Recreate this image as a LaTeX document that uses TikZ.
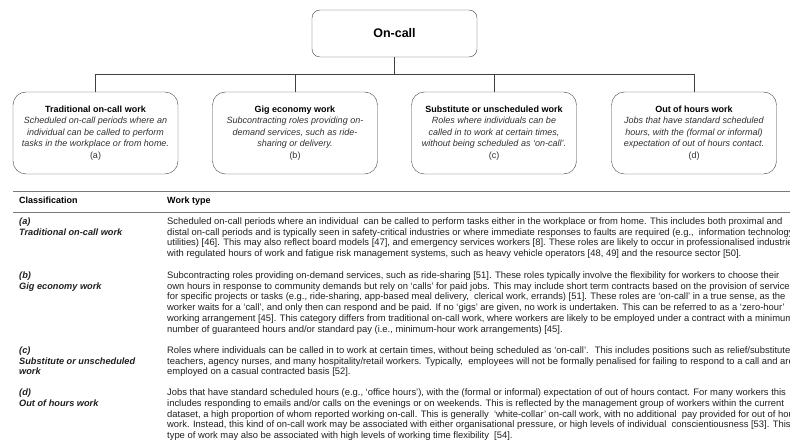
\documentclass[tikz,border=0pt]{standalone}
\usepackage{fontspec}
\setmainfont{Liberation Sans}
\usetikzlibrary{positioning}
\definecolor{linegray}{HTML}{404040}
\definecolor{txtgray}{HTML}{303030}
\definecolor{rulegray}{HTML}{7a7a7a}
\begin{document}
\begin{tikzpicture}[
  x=1pt,y=-1pt,
  root/.style={draw=linegray,rounded corners=8pt,minimum width=165pt,minimum height=47pt,font=\fontsize{12.5}{14}\selectfont\bfseries},
  kind/.style={draw=linegray,rounded corners=13pt,minimum width=165pt,minimum height=82pt,align=center,inner sep=0pt,font=\fontsize{9}{11.5}\selectfont,text=txtgray},
  link/.style={draw=linegray,line width=0.8pt},
  hrule/.style={draw=rulegray,line width=0.9pt},
  headtxt/.style={anchor=base west,inner sep=0pt,font=\fontsize{9}{10.8}\selectfont\bfseries},
  cell/.style={anchor=base west,inner sep=0pt,font=\fontsize{9.4}{10.8}\selectfont,text=black!88},
  clscell/.style={anchor=base west,inner sep=0pt,font=\fontsize{9.2}{10.8}\selectfont\bfseries\itshape,text=black!88}
]
\path[use as bounding box] (0,0) rectangle (790,441);
\clip (0,0) rectangle (790,441);

% tree
\node[root] (oncall) at (394.5,33.5) {On-call};
\node[kind] (trad) at (95.5,133) {\textcolor{black}{\textbf{Traditional on-call work}}\\
  \textit{Scheduled on-call periods where an}\\
  \textit{individual can be called to perform}\\
  \textit{tasks in the workplace or from home.}\\ (a)};
\node[kind] (gig) at (295,133) {\textcolor{black}{\textbf{Gig economy work}}\\
  \textit{Subcontracting roles providing on-}\\
  \textit{demand services, such as ride-}\\
  \textit{sharing or delivery.}\\ (b)};
\node[kind] (subst) at (494,133) {\textcolor{black}{\textbf{Substitute or unscheduled work}}\\
  \textit{Roles where individuals can be}\\
  \textit{called in to work at certain times,}\\
  \textit{without being scheduled as ‘on-call’.}\\ (c)};
\node[kind] (ooh) at (694,133) {\textcolor{black}{\textbf{Out of hours work}}\\
  \textit{Jobs that have standard scheduled}\\
  \textit{hours, with the (formal or informal)}\\
  \textit{expectation of out of hours contact.}\\ (d)};
\foreach \k in {trad,gig,subst,ooh}
  \draw[link] (oncall.south) -- ++(0,17) -| (\k.north);

% table
\draw[hrule] (13,191.7) -- (790,191.7);
\draw[hrule] (13,212) -- (790,212);
\node[headtxt] (hcls) at (19,204) {Classification};
\node[headtxt] (htype) at (167,204) {Work type};

\node[clscell] (ca1) at (19,224.3) {(a)};
\node[clscell] (ca2) at (19,235.1) {Traditional on-call work};
\foreach \ln [count=\i from 0] in {
  {Scheduled on-call periods where an individual \ can be called to perform tasks either in the workplace or from home. This includes both proximal and},
  {distal on-call periods and is typically seen in safety-critical industries or where immediate responses to faults are required (e.g., \ information technology},
  {utilities) [46]. This may also reflect board models [47], and emergency services workers [8]. These roles are likely to occur in professionalised industries},
  {with regulated hours of work and fatigue risk management systems, such as heavy vehicle operators [48, 49] and the resource sector [50].}}
  \node[cell] (ta\i) at (167,224.3+10.8*\i) {\ln};

\node[clscell] (cb1) at (19,278.3) {(b)};
\node[clscell] (cb2) at (19,289.1) {Gig economy work};
\foreach \ln [count=\i from 0] in {
  {Subcontracting roles providing on-demand services, such as ride-sharing [51]. These roles typically involve the flexibility for workers to choose their},
  {own hours in response to community demands but rely on ‘calls’ for paid jobs. This may include short term contracts based on the provision of services},
  {for specific projects or tasks (e.g., ride-sharing, app-based meal delivery, \ clerical work, errands) [51]. These roles are ‘on-call’ in a true sense, as the},
  {worker waits for a ‘call’, and only then can respond and be paid. If no ‘gigs’ are given, no work is undertaken. This can be referred to as a ‘zero-hour’},
  {working arrangement [45]. This category differs from traditional on-call work, where workers are likely to be employed under a contract with a minimum},
  {number of guaranteed hours and/or standard pay (i.e., minimum-hour work arrangements) [45].}}
  \node[cell] (tb\i) at (167,278.3+10.8*\i) {\ln};

\node[clscell] (cc1) at (19,353.3) {(c)};
\node[clscell] (cc2) at (19,364.1) {Substitute or unscheduled};
\node[clscell] (cc3) at (19,374.9) {work};
\foreach \ln [count=\i from 0] in {
  {Roles where individuals can be called in to work at certain times, without being scheduled as ‘on-call’. \ This includes positions such as relief/substitute},
  {teachers, agency nurses, and many hospitality/retail workers. Typically, \ employees will not be formally penalised for failing to respond to a call and are},
  {employed on a casual contracted basis [52].}}
  \node[cell] (tc\i) at (167,353.3+10.8*\i) {\ln};

\node[clscell] (cd1) at (19,395.5) {(d)};
\node[clscell] (cd2) at (19,406.3) {Out of hours work};
\foreach \ln [count=\i from 0] in {
  {Jobs that have standard scheduled hours (e.g., ‘office hours’), with the (formal or informal) expectation of out of hours contact. For many workers this},
  {includes responding to emails and/or calls on the evenings or on weekends. This is reflected by the management group of workers within the current},
  {dataset, a high proportion of whom reported working on-call. This is generally \ ‘white-collar’ on-call work, with no additional \ pay provided for out of hours},
  {work. Instead, this kind of on-call work may be associated with either organisational pressure, or high levels of individual \ conscientiousness [53]. This},
  {type of work may also be associated with high levels of working time flexibility \ [54].}}
  \node[cell] (td\i) at (167,395.5+10.8*\i) {\ln};
\end{tikzpicture}
\end{document}
